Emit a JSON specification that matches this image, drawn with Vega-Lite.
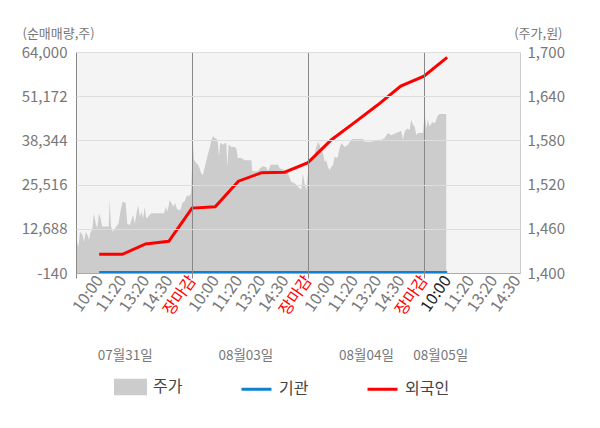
{
  "$schema": "https://vega.github.io/schema/vega-lite/v6.json",
  "width": 444,
  "height": 221,
  "autosize": {"type": "none"},
  "padding": {"left": 76, "top": 52, "right": 80, "bottom": 155},
  "background": "white",
  "config": {
    "font": "Noto Sans CJK KR",
    "view": {"fill": "#f4f4f4", "stroke": null}
  },
  "datasets": {
    "price": [
      {"slot": 0.00, "price": 1445}, {"slot": 0.11, "price": 1436}, {"slot": 0.17, "price": 1456},
      {"slot": 0.28, "price": 1452}, {"slot": 0.35, "price": 1442}, {"slot": 0.42, "price": 1456},
      {"slot": 0.49, "price": 1452}, {"slot": 0.56, "price": 1445}, {"slot": 0.63, "price": 1456},
      {"slot": 0.70, "price": 1458}, {"slot": 0.77, "price": 1481}, {"slot": 0.85, "price": 1467},
      {"slot": 0.92, "price": 1461}, {"slot": 0.99, "price": 1481}, {"slot": 1.06, "price": 1474},
      {"slot": 1.13, "price": 1463}, {"slot": 1.41, "price": 1463}, {"slot": 1.45, "price": 1499},
      {"slot": 1.51, "price": 1463}, {"slot": 1.58, "price": 1456}, {"slot": 1.69, "price": 1461},
      {"slot": 1.83, "price": 1467}, {"slot": 1.93, "price": 1486}, {"slot": 2.01, "price": 1497},
      {"slot": 2.14, "price": 1495}, {"slot": 2.21, "price": 1467}, {"slot": 2.32, "price": 1465},
      {"slot": 2.46, "price": 1479}, {"slot": 2.54, "price": 1467}, {"slot": 2.61, "price": 1481},
      {"slot": 2.68, "price": 1492}, {"slot": 2.75, "price": 1476}, {"slot": 2.82, "price": 1483},
      {"slot": 2.89, "price": 1474}, {"slot": 2.96, "price": 1490}, {"slot": 3.03, "price": 1474},
      {"slot": 3.10, "price": 1476}, {"slot": 3.24, "price": 1481}, {"slot": 3.80, "price": 1481},
      {"slot": 3.87, "price": 1490}, {"slot": 3.94, "price": 1483}, {"slot": 4.04, "price": 1499},
      {"slot": 4.11, "price": 1495}, {"slot": 4.20, "price": 1490}, {"slot": 4.27, "price": 1495},
      {"slot": 4.37, "price": 1486}, {"slot": 4.51, "price": 1486}, {"slot": 4.58, "price": 1495},
      {"slot": 4.68, "price": 1497}, {"slot": 4.79, "price": 1506}, {"slot": 4.86, "price": 1504},
      {"slot": 4.96, "price": 1508},
      {"slot": 5.04, "price": 1576}, {"slot": 5.09, "price": 1553}, {"slot": 5.19, "price": 1549},
      {"slot": 5.26, "price": 1547}, {"slot": 5.33, "price": 1542}, {"slot": 5.40, "price": 1535},
      {"slot": 5.47, "price": 1533}, {"slot": 5.55, "price": 1544}, {"slot": 5.62, "price": 1553},
      {"slot": 5.69, "price": 1562}, {"slot": 5.76, "price": 1569}, {"slot": 5.83, "price": 1580},
      {"slot": 5.91, "price": 1586}, {"slot": 5.98, "price": 1583}, {"slot": 6.05, "price": 1583},
      {"slot": 6.12, "price": 1576}, {"slot": 6.16, "price": 1558}, {"slot": 6.22, "price": 1576},
      {"slot": 6.26, "price": 1576}, {"slot": 6.34, "price": 1574}, {"slot": 6.41, "price": 1576},
      {"slot": 6.48, "price": 1576}, {"slot": 6.52, "price": 1544}, {"slot": 6.58, "price": 1574},
      {"slot": 6.70, "price": 1571}, {"slot": 6.84, "price": 1571}, {"slot": 6.91, "price": 1569},
      {"slot": 6.98, "price": 1556}, {"slot": 7.13, "price": 1556}, {"slot": 7.27, "price": 1553},
      {"slot": 7.56, "price": 1553}, {"slot": 7.60, "price": 1538}, {"slot": 7.84, "price": 1538},
      {"slot": 7.92, "price": 1542}, {"slot": 8.06, "price": 1545}, {"slot": 8.20, "price": 1544},
      {"slot": 8.28, "price": 1538}, {"slot": 8.39, "price": 1547}, {"slot": 8.71, "price": 1547},
      {"slot": 8.78, "price": 1542}, {"slot": 8.99, "price": 1540}, {"slot": 9.14, "price": 1535},
      {"slot": 9.28, "price": 1524}, {"slot": 9.43, "price": 1522}, {"slot": 9.57, "price": 1517},
      {"slot": 9.71, "price": 1513}, {"slot": 9.78, "price": 1535}, {"slot": 9.86, "price": 1520},
      {"slot": 9.93, "price": 1512},
      {"slot": 10.03, "price": 1547}, {"slot": 10.14, "price": 1551}, {"slot": 10.26, "price": 1558},
      {"slot": 10.36, "price": 1571}, {"slot": 10.43, "price": 1578}, {"slot": 10.50, "price": 1574},
      {"slot": 10.57, "price": 1567}, {"slot": 10.65, "price": 1562}, {"slot": 10.72, "price": 1551},
      {"slot": 10.79, "price": 1553}, {"slot": 10.86, "price": 1544}, {"slot": 10.93, "price": 1540},
      {"slot": 11.01, "price": 1544}, {"slot": 11.08, "price": 1547}, {"slot": 11.15, "price": 1558},
      {"slot": 11.22, "price": 1556}, {"slot": 11.29, "price": 1558}, {"slot": 11.36, "price": 1569},
      {"slot": 11.44, "price": 1576}, {"slot": 11.51, "price": 1574}, {"slot": 11.58, "price": 1571},
      {"slot": 11.72, "price": 1574}, {"slot": 11.87, "price": 1581}, {"slot": 11.94, "price": 1582},
      {"slot": 12.37, "price": 1582}, {"slot": 12.44, "price": 1578}, {"slot": 12.73, "price": 1578},
      {"slot": 13.02, "price": 1581}, {"slot": 13.16, "price": 1581}, {"slot": 13.30, "price": 1583},
      {"slot": 13.45, "price": 1590}, {"slot": 13.59, "price": 1587}, {"slot": 13.81, "price": 1590},
      {"slot": 14.02, "price": 1593}, {"slot": 14.09, "price": 1581}, {"slot": 14.17, "price": 1592},
      {"slot": 14.28, "price": 1596}, {"slot": 14.38, "price": 1594}, {"slot": 14.45, "price": 1608},
      {"slot": 14.53, "price": 1601}, {"slot": 14.60, "price": 1599}, {"slot": 14.67, "price": 1587},
      {"slot": 14.74, "price": 1590}, {"slot": 14.96, "price": 1590},
      {"slot": 15.03, "price": 1617}, {"slot": 15.10, "price": 1596}, {"slot": 15.17, "price": 1608},
      {"slot": 15.24, "price": 1599}, {"slot": 15.32, "price": 1603}, {"slot": 15.39, "price": 1605},
      {"slot": 15.46, "price": 1603}, {"slot": 15.53, "price": 1608}, {"slot": 15.60, "price": 1614},
      {"slot": 15.68, "price": 1616}, {"slot": 15.96, "price": 1616}
    ],
    "flow": [
      {"slot": 1, "기관": 0, "외국인": 5300},
      {"slot": 2, "기관": 0, "외국인": 5300},
      {"slot": 3, "기관": 0, "외국인": 8300},
      {"slot": 4, "기관": 0, "외국인": 9060},
      {"slot": 5, "기관": 0, "외국인": 18700},
      {"slot": 6, "기관": 0, "외국인": 19100},
      {"slot": 7, "기관": 0, "외국인": 26500},
      {"slot": 8, "기관": 0, "외국인": 28970},
      {"slot": 9, "기관": 0, "외국인": 29100},
      {"slot": 10, "기관": 0, "외국인": 31900},
      {"slot": 11, "기관": 0, "외국인": 38460},
      {"slot": 12, "기관": 0, "외국인": 43500},
      {"slot": 13, "기관": 0, "외국인": 48600},
      {"slot": 14, "기관": 0, "외국인": 54100},
      {"slot": 15, "기관": 0, "외국인": 57000},
      {"slot": 16, "기관": 0, "외국인": 62450}
    ]
  },
  "layer": [
    {
      "data": {"name": "price"},
      "mark": {"type": "area", "interpolate": "linear"},
      "encoding": {
        "x": {
          "field": "slot",
          "type": "quantitative",
          "scale": {"domain": [0, 19.14], "nice": false, "zero": false},
          "axis": {
            "orient": "bottom",
            "values": [1, 2, 3, 4, 5, 6, 7, 8, 9, 10, 11, 12, 13, 14, 15, 16, 17, 18, 19],
            "labelExpr": "['장마감','10:00','11:20','13:20','14:30'][datum.value % 5]",
            "labelAngle": -55,
            "labelFontSize": 16,
            "labelColor": {
              "condition": [
                {"test": "datum.value % 5 === 0", "value": "#ff0000"},
                {"test": "datum.value === 16", "value": "#222222"}
              ],
              "value": "#777777"
            },
            "labelOverlap": false,
            "labelPadding": 4,
            "ticks": false,
            "grid": false,
            "domainColor": "#aaaaaa",
            "title": null,
            "zindex": 1
          }
        },
        "y": {
          "field": "price",
          "type": "quantitative",
          "scale": {"domain": [1400, 1700], "nice": false, "zero": false},
          "axis": {
            "orient": "right",
            "values": [1400, 1460, 1520, 1580, 1640, 1700],
            "labelExpr": "format(datum.value, ',.0f')",
            "grid": false,
            "ticks": false,
            "domainColor": "#cccccc",
            "labelPadding": 7,
            "labelFontSize": 15,
            "labelColor": "#777777",
            "title": "(주가,원)",
            "titleAngle": 0,
            "titleAlign": "right",
            "titleBaseline": "middle",
            "titleX": 42,
            "titleY": -19,
            "titleFontSize": 13,
            "titleFontWeight": "normal",
            "titleColor": "#777777"
          }
        },
        "y2": {"datum": 1400},
        "color": {
          "datum": "주가",
          "type": "nominal",
          "title": null,
          "scale": {"domain": ["주가", "기관", "외국인"], "range": ["#cccccc", "#1080d0", "#ff0000"]},
          "legend": {
            "orient": "none",
            "legendX": 38,
            "legendY": 318,
            "direction": "horizontal",
            "title": null,
            "symbolSize": 900,
            "symbolStrokeWidth": 3,
            "labelFontSize": 16,
            "labelColor": "#444444",
            "labelOffset": 6,
            "columnPadding": 52,
            "encode": {
              "symbols": {
                "update": {
                  "shape": {"signal": "datum.value === '주가' ? 'M-1,-0.45H1V0.45H-1Z' : 'stroke'"},
                  "fill": {"signal": "datum.value === '주가' ? '#cccccc' : 'transparent'"},
                  "stroke": {"signal": "datum.value === '주가' ? 'transparent' : datum.value === '기관' ? '#1080d0' : '#ff0000'"},
                  "strokeWidth": {"value": 3}
                }
              }
            }
          }
        }
      }
    },
    {
      "data": {"name": "flow"},
      "transform": [{"fold": ["기관", "외국인"], "as": ["투자자", "순매매량"]}],
      "mark": {"type": "line", "strokeWidth": 3},
      "encoding": {
        "x": {
          "field": "slot",
          "type": "quantitative",
          "scale": {"domain": [0, 19.14], "nice": false, "zero": false},
          "axis": {
            "orient": "bottom",
            "values": [0, 2.1, 5, 7.3, 10, 12.5, 15, 15.7],
            "labelExpr": "datum.value % 5 === 0 ? '' : datum.value < 5 ? '07월31일' : datum.value < 10 ? '08월03일' : datum.value < 15 ? '08월04일' : '08월05일'",
            "labelAngle": 0,
            "labelAlign": "center",
            "labelFontSize": 13.5,
            "labelColor": "#777777",
            "labelPadding": 70,
            "labelOverlap": false,
            "grid": true,
            "gridColor": "#888888",
            "gridOpacity": {"condition": {"test": "datum.value % 5 === 0", "value": 1}, "value": 0},
            "ticks": true,
            "tickColor": "#888888",
            "tickSize": 5,
            "tickOpacity": {"condition": {"test": "datum.value % 5 === 0", "value": 1}, "value": 0},
            "domain": false,
            "title": null,
            "zindex": 1
          }
        },
        "y": {
          "field": "순매매량",
          "type": "quantitative",
          "scale": {"domain": [-140, 64000], "nice": false, "zero": false},
          "axis": {
            "orient": "left",
            "values": [-140, 12688, 25516, 38344, 51172, 64000],
            "labelExpr": "replace(format(datum.value, ',.0f'), '\u2212', '-')",
            "grid": true,
            "gridColor": "#dddddd",
            "domain": false,
            "ticks": false,
            "labelPadding": 9,
            "labelFontSize": 15,
            "labelColor": "#777777",
            "title": "(순매매량,주)",
            "titleAngle": 0,
            "titleAlign": "left",
            "titleBaseline": "middle",
            "titleX": -54,
            "titleY": -19,
            "titleFontSize": 13,
            "titleFontWeight": "normal",
            "titleColor": "#777777",
            "zindex": 1
          }
        },
        "color": {"field": "투자자", "type": "nominal", "title": null}
      }
    }
  ],
  "resolve": {"scale": {"y": "independent"}, "axis": {"x": "independent"}}
}
